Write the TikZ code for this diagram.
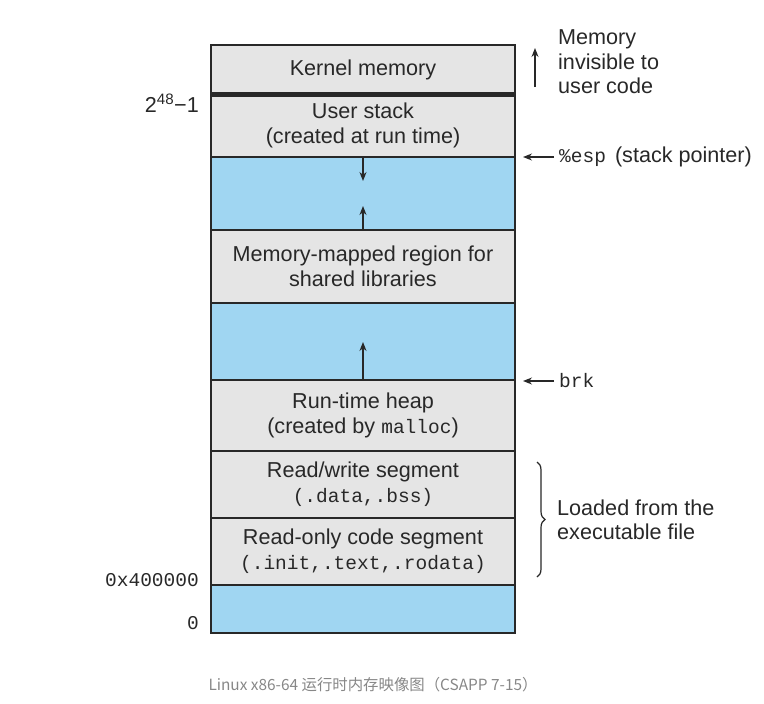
\documentclass[tikz,border=0pt]{standalone}
\usepackage{fontspec}
\setmainfont{Liberation Sans}
\setmonofont{Liberation Mono}
\newfontfamily\cjk{Noto Sans CJK SC}
\usetikzlibrary{decorations.pathreplacing,arrows.meta}
\definecolor{seggray}{RGB}{229,229,229}
\definecolor{segblue}{RGB}{160,214,242}
\definecolor{ink}{RGB}{40,40,40}
\definecolor{capgray}{RGB}{135,135,135}
\begin{document}
\begin{tikzpicture}[x=1pt,y=-1pt,
  seg/.style={draw=ink, line width=1.3pt, minimum width=304pt, inner sep=0pt, outer sep=0pt,
    align=center, text=ink, font=\fontsize{21.6}{25}\selectfont},
  graybox/.style={seg, fill=seggray},
  bluebox/.style={seg, fill=segblue},
  arr/.style={draw=ink, line width=1.3pt, -{Stealth[length=9pt,width=7pt]}},
  lbl/.style={text=ink, inner sep=0pt, font=\fontsize{21.6}{24.5}\selectfont},
  mono/.style={text=ink, inner sep=0pt, font=\fontsize{19.5}{24}\ttfamily}
  ]
\useasboundingbox (0,0) rectangle (764,704);
% segments
\node[graybox, minimum height=49.5pt] (kernel) at (363,69.75) {Kernel memory};
\node[graybox, minimum height=62.5pt] (stack) at (363,125.75) {User stack\\(created at run time)};
\node[bluebox, minimum height=73pt] (blue1) at (363,193.5) {};
\node[graybox, minimum height=73pt] (mapped) at (363,266.5) {Memory-mapped region for\\shared libraries};
\node[bluebox, minimum height=77pt] (blue2) at (363,341.5) {};
\node[graybox, minimum height=71pt] (heap) at (363,415.5) {Run-time heap\\(created by {\fontsize{19.5}{25}\ttfamily malloc})};
\node[graybox, minimum height=67pt] (rw) at (363,484.5) {Read/write segment\\{\fontsize{19.5}{25}\ttfamily (.data,.bss)}};
\node[graybox, minimum height=67pt] (ro) at (363,551.5) {Read-only code segment\\{\fontsize{19.5}{25}\ttfamily (.init,.text,.rodata)}};
\node[bluebox, minimum height=48pt] (blue3) at (363,609) {};
% frame
\draw[ink, line width=2pt] (kernel.north west) rectangle (blue3.south east);
\draw[ink, line width=5pt] (kernel.south west) -- (kernel.south east);
% inner arrows
\coordinate (d1) at (363,181);
\coordinate (u1) at (363,206);
\coordinate (u2) at (363,342);
\draw[arr] (blue1.north) -- (d1);
\draw[arr] (mapped.north) -- (u1);
\draw[arr] (heap.north) -- (u2);
% left labels
\node[lbl, anchor=east] (top) at (199,103) {2\textsuperscript{48}−1};
\node[mono, anchor=east] (ox) at (199,580) {0x400000};
\node[mono, anchor=east] (zero) at (199,623) {0};
% right labels
\coordinate (ka) at (535,87);
\coordinate (kb) at (535,48);
\draw[arr] (ka) -- (kb);
\node[lbl, anchor=west, align=left] (inv) at (558,62) {Memory\\invisible to\\user code};
\node[lbl, anchor=west] (esp) at (559,157) {{\fontsize{19.5}{24}\ttfamily\%esp}\hspace{9pt}(stack pointer)};
\coordinate (espa) at (523,157);
\draw[arr] (esp.west) ++(-5,0) coordinate (espb) (espb) -- (espa);
\node[mono, anchor=west] (brk) at (559,381) {brk};
\coordinate (brka) at (523,381);
\draw[arr] (brk.west) ++(-5,0) coordinate (brkb) (brkb) -- (brka);
\coordinate (bt) at (537,462);
\coordinate (bb) at (537,577);
\draw[ink, line width=1.2pt, decorate, decoration={brace, amplitude=8pt}] (bt) -- (bb);
\node[lbl, anchor=west, align=left] (load) at (557,520) {Loaded from the\\executable file};
% caption
\node[text=capgray, font=\cjk\fontsize{15.4}{18}\selectfont] (cap) at (373,685) {Linux x86-64 运行时内存映像图（CSAPP 7-15）};
\end{tikzpicture}
\end{document}
